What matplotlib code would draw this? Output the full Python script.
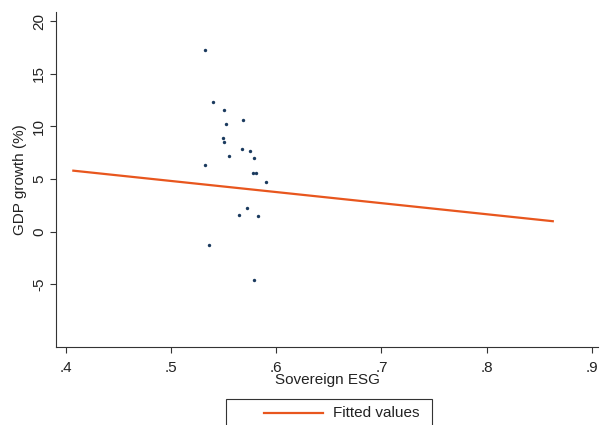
import numpy as np
import matplotlib.pyplot as plt
from matplotlib.lines import Line2D
from matplotlib.patches import Rectangle

plt.rcParams['font.family'] = ['Liberation Sans', 'DejaVu Sans']

# --- scatter data ---
esg = [0.532, 0.540, 0.550, 0.552, 0.568, 0.549, 0.550, 0.567, 0.575, 0.555,
       0.579, 0.532, 0.578, 0.581, 0.590, 0.572, 0.565, 0.583, 0.536, 0.579]
gdp = [17.3, 12.3, 11.6, 10.2, 10.6, 8.9, 8.5, 7.9, 7.7, 7.2,
       7.0, 6.3, 5.6, 5.6, 4.7, 2.3, 1.6, 1.5, -1.3, -4.6]

# fitted line endpoints
fit_x = [0.407, 0.863]
fit_y = [5.8, 1.0]

xticks = [0.4, 0.5, 0.6, 0.7, 0.8, 0.9]
xtick_labels = ['.4', '.5', '.6', '.7', '.8', '.9']
yticks = [-5, 0, 5, 10, 15, 20]

dot_color = '#1a3a5e'
fit_color = '#e8561e'
fs = 11

fig = plt.figure(figsize=(6.05, 4.25), dpi=100)
ax = fig.add_axes([56 / 605, 1 - 346.7 / 425, (598 - 56) / 605, (346.7 - 11.7) / 425])

ax.scatter(esg, gdp, s=6, color=dot_color, zorder=3, linewidths=0)
ax.plot(fit_x, fit_y, color=fit_color, lw=1.6, zorder=2)

ax.set_xlim(0.3905, 0.906)
ax.set_ylim(-10.92, 20.9)
ax.set_xticks(xticks)
ax.set_xticklabels(xtick_labels)
ax.set_yticks(yticks)
ax.set_yticklabels([str(v) for v in yticks], rotation=90, va='center')

for s in ['top', 'right']:
    ax.spines[s].set_visible(False)
for s in ['left', 'bottom']:
    ax.spines[s].set_color('#333333')
    ax.spines[s].set_linewidth(0.8)
ax.tick_params(direction='out', length=4, width=0.8, colors='#333333',
               labelsize=fs, labelcolor='#222222')
ax.tick_params(axis='x', pad=6)
ax.tick_params(axis='y', pad=3)

ax.set_xlabel('Sovereign ESG', fontsize=fs, color='#222222', labelpad=-1)
ax.set_ylabel('GDP growth (%)', fontsize=fs, color='#222222', labelpad=4)

# legend box (manual, Stata style)
W, H = 605, 425
box = Rectangle((226 / W, 1 - 428 / H), (432 - 226) / W, (428 - 399) / H,
                transform=fig.transFigure, fill=False, edgecolor='#333333',
                linewidth=0.8, clip_on=False)
fig.patches.append(box)
fig.lines.append(Line2D([264 / W, 323 / W], [1 - 413 / H, 1 - 413 / H],
                        transform=fig.transFigure, color=fit_color, lw=1.6))
fig.text(333 / W, 1 - 413 / H, 'Fitted values', fontsize=fs, color='#222222',
         va='center', ha='left')

fig.savefig('out.png', dpi=100)
